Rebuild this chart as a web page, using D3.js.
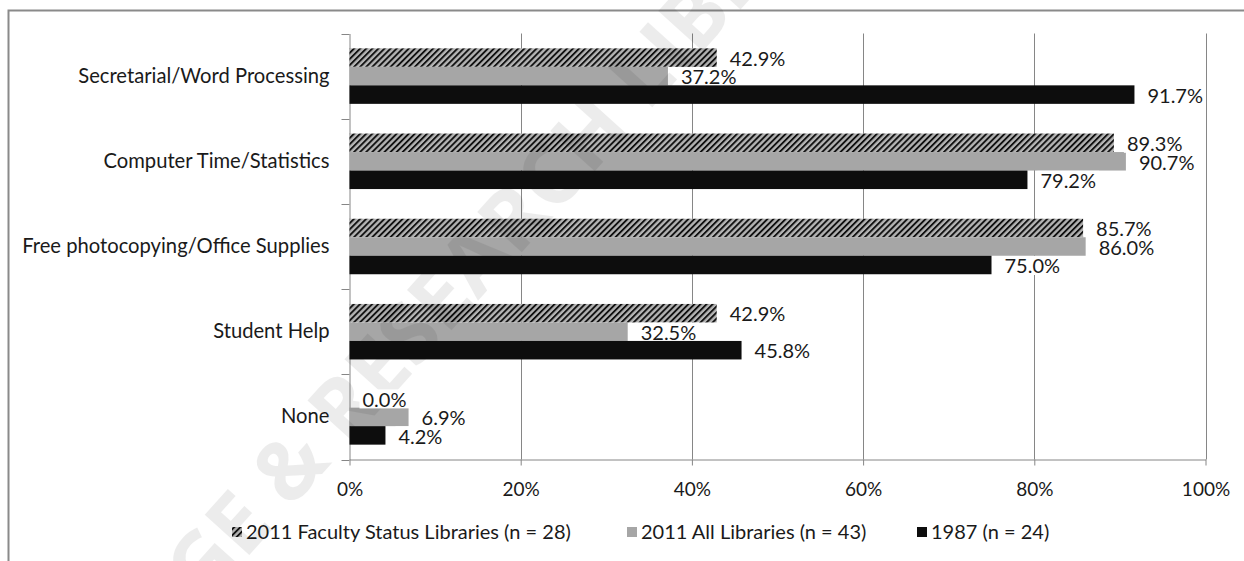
<!DOCTYPE html>
<html>
<head>
<meta charset="utf-8">
<script src="https://cdn.jsdelivr.net/npm/d3@7"></script>
<style>
  html, body { margin: 0; padding: 0; background: #fff; }
  svg { display: block; }
</style>
</head>
<body>
<svg id="chart" width="1244" height="561"></svg>
<script>
const categories = ["Secretarial/Word Processing", "Computer Time/Statistics", "Free photocopying/Office Supplies", "Student Help", "None"];
const faculty2011 = [42.9, 89.3, 85.7, 42.9, 0.0];
const all2011 = [37.2, 90.7, 86.0, 32.5, 6.9];
const year1987 = [91.7, 79.2, 75.0, 45.8, 4.2];
const seriesNames = ["2011 Faculty Status Libraries (n = 28)", "2011 All Libraries (n = 43)", "1987 (n = 24)"];
const xTicks = [0, 20, 40, 60, 80, 100];
const watermarkText = "COLLEGE & RESEARCH LIBRARIES";

const seriesValues = [faculty2011, all2011, year1987];
const seriesFills = ["url(#hatch)", "#a6a6a6", "#0d0d0d"];
const FONT = "Lato, 'Open Sans', sans-serif";
const TEXT = "#1a1a1a";
const AXIS = "#868686";

const svg = d3.select("#chart");
const defs = svg.append("defs");
const pat = defs.append("pattern")
  .attr("id", "hatch").attr("patternUnits", "userSpaceOnUse")
  .attr("width", 4.3).attr("height", 10)
  .attr("patternTransform", "rotate(45)");
pat.append("rect").attr("width", 4.3).attr("height", 10).attr("fill", "#b4b4b4");
pat.append("rect").attr("width", 1.9).attr("height", 10).attr("fill", "#111");

// outer frame
svg.append("rect").attr("x", 8.5).attr("y", 10.5).attr("width", 1400).attr("height", 700)
  .attr("fill", "none").attr("stroke", "#8a8a8a").attr("stroke-width", 2);

const x = d3.scaleLinear().domain([0, 100]).range([349.5, 1205.5]);
const y = d3.scaleBand().domain(categories).range([33.5, 459.5]);
const barH = 18.5;
const sub = d3.scaleBand().domain(d3.range(seriesNames.length))
  .range([(y.bandwidth() - barH * 3) / 2, (y.bandwidth() + barH * 3) / 2]);

// gridlines
svg.append("g").selectAll("line").data(xTicks.filter(d => d > 0)).join("line")
  .attr("x1", d => Math.round(x(d)) + 0.5).attr("x2", d => Math.round(x(d)) + 0.5)
  .attr("y1", y.range()[0]).attr("y2", y.range()[1])
  .attr("stroke", AXIS).attr("stroke-width", 1);

// bottom axis
const xAxis = svg.append("g").attr("transform", `translate(0,${y.range()[1]})`)
  .call(d3.axisBottom(x).tickValues(xTicks).tickFormat(d => d + "%").tickSize(6).tickPadding(17).tickSizeOuter(0));
xAxis.select(".domain").attr("stroke", AXIS);
xAxis.selectAll(".tick line").attr("stroke", AXIS);
xAxis.selectAll("text").attr("font-family", FONT).attr("font-size", 19).attr("fill", TEXT);

// left axis (labels)
const yAxis = svg.append("g").attr("transform", `translate(${x(0)},0)`)
  .call(d3.axisLeft(y).tickSize(0).tickPadding(20));
yAxis.select(".domain").attr("stroke", AXIS);
yAxis.selectAll("text").attr("font-family", FONT).attr("font-size", 20.2).attr("fill", TEXT);
// boundary ticks
const bounds = categories.map(c => y(c)).concat([y.range()[1]]);
svg.append("g").selectAll("line").data(bounds).join("line")
  .attr("x1", x(0) - 8).attr("x2", x(0))
  .attr("y1", d => Math.round(d) + 0.5).attr("y2", d => Math.round(d) + 0.5)
  .attr("stroke", AXIS);

// bars
const layers = [];
seriesValues.forEach((vals, si) => {
  const g = svg.append("g");
  g.selectAll("rect").data(vals).join("rect")
    .attr("x", x(0))
    .attr("y", (d, i) => y(categories[i]) + sub(si))
    .attr("width", d => x(d) - x(0))
    .attr("height", sub.bandwidth())
    .attr("fill", seriesFills[si]);
  layers.push(g);
});

// watermark
svg.append("text")
  .attr("transform", "translate(462,285) rotate(-48)")
  .attr("text-anchor", "middle").attr("dominant-baseline", "middle")
  .attr("font-family", "'Open Sans', sans-serif").attr("font-weight", 700)
  .attr("font-size", 84).attr("fill", "#000").attr("opacity", 0.07)
  .text(watermarkText);

// data labels
seriesValues.forEach((vals, si) => {
  const g = svg.append("g");
  vals.forEach((v, i) => {
    const cy = y(categories[i]) + sub(si) + sub.bandwidth() / 2;
    const lgp = g.append("g");
    const r = lgp.append("rect").attr("fill", "#fff");
    const t = lgp.append("text")
      .attr("x", x(v) + 13).attr("y", cy + 1).attr("dy", "0.36em")
      .attr("font-family", FONT).attr("font-size", 20).attr("fill", TEXT)
      .text(v.toFixed(1) + "%");
    const bb = t.node().getBBox();
    r.attr("x", bb.x - 3).attr("y", cy - 9).attr("width", bb.width + 6).attr("height", 19);
  });
});
// the 1987 bars sit above the labels of the series above them
layers[2].raise();

// legend
const legendItems = [
  {sx: 232, tx: 246},
  {sx: 627, tx: 641},
  {sx: 917, tx: 931}
];
const lg = svg.append("g");
seriesNames.forEach((name, i) => {
  lg.append("rect").attr("x", legendItems[i].sx).attr("y", 527).attr("width", 10).attr("height", 10)
    .attr("fill", seriesFills[i]);
  lg.append("text").attr("x", legendItems[i].tx).attr("y", 532).attr("dy", "0.36em")
    .attr("font-family", FONT).attr("font-size", 20).attr("fill", TEXT).text(name);
});
</script>
</body>
</html>
